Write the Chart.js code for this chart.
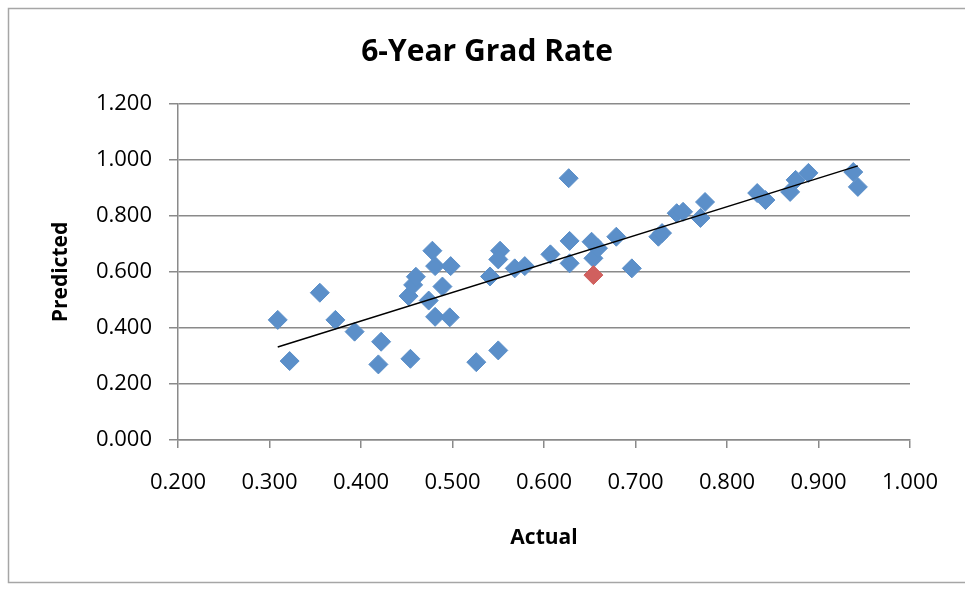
<!DOCTYPE html>
<html>
<head>
<meta charset="utf-8">
<script src="https://cdn.jsdelivr.net/npm/chart.js@4/dist/chart.umd.min.js"></script>
<style>
  html, body { margin: 0; padding: 0; background: #ffffff; }
  #wrap { width: 965px; height: 589px; position: relative; }
</style>
</head>
<body>
<div id="wrap"><canvas id="c" width="965" height="589"></canvas></div>
<script>
// ---- Data ----
const actualValues = [0.309, 0.322, 0.355, 0.372, 0.393, 0.422, 0.419, 0.454, 0.452, 0.457,
  0.460, 0.478, 0.481, 0.498, 0.474, 0.481, 0.489, 0.497, 0.526, 0.541,
  0.550, 0.552, 0.550, 0.568, 0.579, 0.607, 0.627, 0.628, 0.628, 0.652,
  0.654, 0.659, 0.679, 0.696, 0.725, 0.729, 0.745, 0.752, 0.771, 0.776,
  0.833, 0.842, 0.869, 0.875, 0.889, 0.938, 0.943];
const predictedValues = [0.429, 0.282, 0.526, 0.429, 0.387, 0.351, 0.270, 0.290, 0.514, 0.554,
  0.583, 0.676, 0.621, 0.621, 0.498, 0.440, 0.548, 0.438, 0.278, 0.584,
  0.320, 0.676, 0.645, 0.613, 0.621, 0.663, 0.935, 0.711, 0.631, 0.708,
  0.649, 0.685, 0.726, 0.613, 0.726, 0.739, 0.810, 0.815, 0.793, 0.850,
  0.882, 0.857, 0.886, 0.929, 0.954, 0.957, 0.904];
const highlightActual = [0.654];
const highlightPredicted = [0.589];
const trendActual = [0.309, 0.943];
const trendPredicted = [0.332, 0.979];

const chartTitle = '6-Year Grad Rate';
const xTitle = 'Actual';
const yTitle = 'Predicted';

const toPoints = (xs, ys) => xs.map((x, i) => ({ x: x, y: ys[i] }));

const gridGray = '#8a8a8a';
const fontFamily = "'Open Sans', 'Liberation Sans', sans-serif";

const frame = {
  id: 'frame',
  beforeDraw(chart) {
    const ctx = chart.ctx;
    ctx.save();
    ctx.fillStyle = '#ffffff';
    ctx.fillRect(0, 0, chart.width, chart.height);
    ctx.strokeStyle = '#a6a6a6';
    ctx.lineWidth = 1.5;
    ctx.strokeRect(8.5, 8.5, chart.width + 20, 574);
    ctx.restore();
  }
};

new Chart(document.getElementById('c'), {
  type: 'scatter',
  data: {
    datasets: [
      {
        type: 'line',
        label: 'Trend',
        data: toPoints(trendActual, trendPredicted),
        borderColor: '#000000',
        borderWidth: 1.5,
        pointRadius: 0,
        fill: false
      },
      {
        label: 'Highlight',
        data: toPoints(highlightActual, highlightPredicted),
        pointStyle: 'rectRot',
        pointRadius: 9.5,
        backgroundColor: '#d0605e',
        borderColor: '#d0605e',
        borderWidth: 1
      },
      {
        label: 'Schools',
        data: toPoints(actualValues, predictedValues),
        pointStyle: 'rectRot',
        pointRadius: 9.5,
        backgroundColor: '#5b8fc9',
        borderColor: '#5b8fc9',
        borderWidth: 1
      }
    ]
  },
  options: {
    responsive: false,
    animation: false,
    devicePixelRatio: 1,
    layout: { padding: { left: 64, right: 55, top: 10, bottom: 10 } },
    plugins: {
      legend: { display: false },
      tooltip: { enabled: false },
      title: {
        display: true,
        text: chartTitle,
        color: '#000000',
        font: { family: fontFamily, size: 30, weight: 'bold', lineHeight: 1.2 },
        padding: { top: 24, bottom: 34 }
      }
    },
    scales: {
      x: {
        type: 'linear',
        min: 0.2,
        max: 1.0,
        afterFit(scale) { scale.height = 139; },
        ticks: {
          stepSize: 0.1,
          color: '#000000',
          padding: 22,
          maxRotation: 0,
          font: { family: fontFamily, size: 22, lineHeight: 1.2 },
          callback: (v) => Number(v).toFixed(3)
        },
        grid: {
          display: true,
          drawOnChartArea: false,
          drawTicks: true,
          tickLength: 8,
          color: gridGray,
          lineWidth: 1.5
        },
        border: { display: true, color: gridGray, width: 1.5 },
        title: {
          display: true,
          text: xTitle,
          color: '#000000',
          font: { family: fontFamily, size: 21, weight: 'bold', lineHeight: 1.2 },
          padding: { top: 0, bottom: 28 }
        }
      },
      y: {
        type: 'linear',
        min: 0,
        max: 1.2,
        afterFit(scale) { scale.width = 114; },
        ticks: {
          stepSize: 0.2,
          color: '#000000',
          padding: 17,
          font: { family: fontFamily, size: 22, lineHeight: 1.2 },
          callback: (v) => Number(v).toFixed(3)
        },
        grid: {
          display: true,
          drawOnChartArea: true,
          drawTicks: true,
          tickLength: 9,
          color: gridGray,
          lineWidth: 1.5
        },
        border: { display: true, color: gridGray, width: 1.5 },
        title: {
          display: true,
          text: yTitle,
          color: '#000000',
          font: { family: fontFamily, size: 21, weight: 'bold', lineHeight: 1.2 },
          padding: { top: -16, bottom: 0 }
        }
      }
    }
  },
  plugins: [frame]
});
</script>
</body>
</html>
